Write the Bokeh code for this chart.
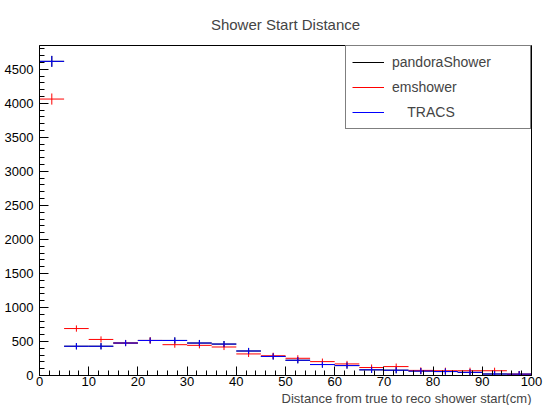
import numpy as np
from bokeh.plotting import figure
from bokeh.models import (Range1d, SingleIntervalTicker, Legend, LegendItem, Title,
                          ColumnDataSource)
from bokeh.embed import file_html
from bokeh.resources import INLINE

# ---- data (bins of 5 cm from 0 to 100) ----
bin_edges = [0, 5, 10, 15, 20, 25, 30, 35, 40, 45, 50, 55, 60, 65, 70, 75, 80, 85, 90, 95, 100]

pandora_vals = [4617, 430, 430, 477, 515, 515, 477, 462, 360, 280, 224, 161, 146, 83, 78, 65, 58, 46, 22, 20]
pandora_err = [80, 45, 45, 45, 45, 45, 45, 45, 45, 45, 45, 45, 45, 45, 45, 45, 45, 45, 45, 45]

emshower_vals = [4063, 690, 530, 477, 515, 453, 443, 419, 317, 290, 253, 204, 170, 117, 131, 75, 70, 70, 70, 19]
emshower_err = [82, 46, 45, 45, 45, 45, 45, 45, 45, 45, 45, 45, 45, 45, 45, 45, 45, 45, 45, 45]

tracs_vals = [4617, 430, 430, 477, 515, 515, 477, 462, 360, 280, 224, 161, 146, 83, 78, 65, 58, 46, 22, 20]
tracs_err = [80, 47, 47, 45, 41, 45, 45, 45, 45, 45, 45, 45, 45, 45, 45, 45, 45, 45, 45, 45]

series = [
    ("pandoraShower", pandora_vals, pandora_err, "#000000"),
    ("emshower", emshower_vals, emshower_err, "#ff0000"),
    ("    TRACS", tracs_vals, tracs_err, "#0000ff"),
]

FONT = "Liberation Sans"

p = figure(width=543, height=405, output_backend="svg", toolbar_location=None,
           x_range=Range1d(0, 100), y_range=Range1d(0, 4850),
           min_border_left=39, min_border_right=12, min_border_top=43, min_border_bottom=0)

p.title.text = "Shower Start Distance"
p.title.align = "center"
p.title.text_font = FONT
p.title.text_font_size = "15px"
p.title.text_font_style = "normal"
p.title.standoff = 26

p.xgrid.visible = False
p.ygrid.visible = False
p.outline_line_color = "black"
p.outline_line_width = 1
p.background_fill_color = "white"
p.border_fill_color = "white"

p.xaxis.ticker = SingleIntervalTicker(interval=10, num_minor_ticks=5)
p.yaxis.ticker = SingleIntervalTicker(interval=500, num_minor_ticks=5)
for ax in (p.xaxis[0], p.yaxis[0]):
    ax.major_tick_in = 9
    ax.major_tick_out = 0
    ax.minor_tick_in = 5
    ax.minor_tick_out = 0
    ax.axis_line_color = "black"
    ax.major_tick_line_color = "black"
    ax.minor_tick_line_color = "black"
    ax.major_label_text_font = FONT
    ax.major_label_text_font_size = "13px"
    ax.major_label_text_color = "black"
p.xaxis.major_label_standoff = 1
p.yaxis.major_label_standoff = 6

xt = Title(text="Distance from true to reco shower start(cm)", align="right",
           text_font=FONT, text_font_size="13px", text_font_style="normal", standoff=0)
p.add_layout(xt, "below")

lo = np.array(bin_edges[:-1], dtype=float)
hi = np.array(bin_edges[1:], dtype=float)
mid = (lo + hi) / 2

items = []
for name, vals, errs, color in series:
    v = np.array(vals, dtype=float)
    e = np.array(errs, dtype=float)
    src = ColumnDataSource(dict(lo=lo, hi=hi, mid=mid, v=v, top=v + e, bot=v - e))
    p.segment(x0="lo", x1="hi", y0="v", y1="v", source=src, line_color=color, line_width=1)
    p.segment(x0="mid", x1="mid", y0="bot", y1="top", source=src, line_color=color, line_width=1)
    # hidden line used only as the legend swatch
    lr = p.line(x="mid", y="v", source=src, line_color=color, line_width=1, visible=False)
    items.append(LegendItem(label=name, renderers=[lr]))

legend = Legend(items=items, location="top_right", margin=0,
                padding=6, spacing=5, glyph_width=32, glyph_height=20,
                label_height=20, label_width=132, label_standoff=8,
                label_text_font=FONT, label_text_font_size="14px",
                border_line_color="black", border_line_width=1,
                background_fill_color="white", background_fill_alpha=1.0,
                inactive_fill_alpha=0.0, click_policy="none")
p.add_layout(legend)

open("out.html", "w").write(file_html(p, INLINE))
